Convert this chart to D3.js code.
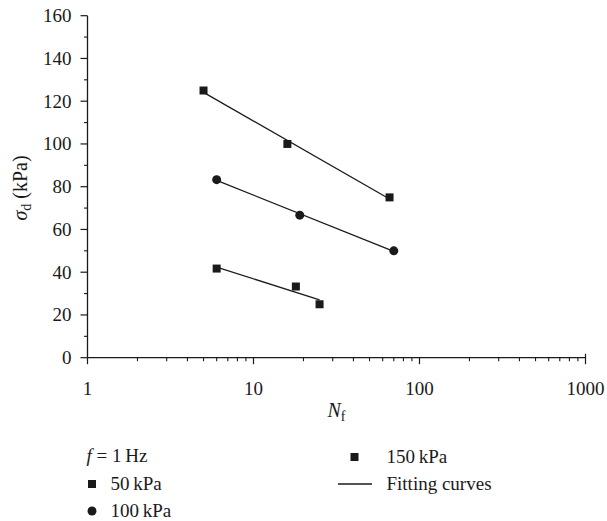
<!DOCTYPE html>
<html>
<head>
<meta charset="utf-8">
<script src="https://cdn.jsdelivr.net/npm/d3@7"></script>
<style>
  html, body { margin: 0; padding: 0; background: #fff; }
  svg { display: block; font-family: "Liberation Serif", "DejaVu Serif", serif; }
</style>
</head>
<body>
<svg id="chart" width="607" height="521"></svg>
<script>
// ---- data ----
const series50N  = [5, 16, 66];
const series50S  = [125, 100, 75];
const series100N = [6, 19, 70];
const series100S = [83.3, 66.7, 50];
const series150N = [6, 18, 25];
const series150S = [41.7, 33.3, 25];
const seriesNames = ["50\u2009kPa", "100\u2009kPa", "150\u2009kPa"];
const seriesShapes = ["square", "circle", "square"];
const xTickValues = [1, 10, 100, 1000];
const yTickValues = [0, 20, 40, 60, 80, 100, 120, 140, 160];

const seriesList = [
  { name: seriesNames[0], shape: seriesShapes[0], N: series50N,  S: series50S },
  { name: seriesNames[1], shape: seriesShapes[1], N: series100N, S: series100S },
  { name: seriesNames[2], shape: seriesShapes[2], N: series150N, S: series150S }
];

const ink = "#1a1a1a";
const fs = 19;
const svg = d3.select("#chart");
const pLeft = 87.5, pRight = 585.5, pTop = 15.7, pBottom = 357.7;

const x = d3.scaleLog().domain([1, 1000]).range([pLeft, pRight]);
const y = d3.scaleLinear().domain([0, 160]).range([pBottom, pTop]);

// ---- axes ----
const minorX = [];
for (let d = 1; d < 1000; d *= 10) for (let k = 2; k <= 9; k++) minorX.push(d * k);
const minorY = d3.range(10, 160, 20);

const xAxis = svg.append("g").attr("transform", `translate(0,${pBottom})`);
xAxis.append("line").attr("x1", pLeft).attr("x2", pRight + 0.5).attr("stroke", ink).attr("stroke-width", 1.3);
xAxis.selectAll(".mn").data(minorX).join("line")
  .attr("x1", d => x(d)).attr("x2", d => x(d)).attr("y1", 0).attr("y2", 3.5)
  .attr("stroke", ink).attr("stroke-width", 1.1);
xAxis.selectAll(".mj").data(xTickValues).join("line")
  .attr("x1", d => x(d)).attr("x2", d => x(d)).attr("y1", d => d === 1000 ? -4 : 0).attr("y2", 6.5)
  .attr("stroke", ink).attr("stroke-width", 1.2);
xAxis.selectAll(".lb").data(xTickValues).join("text")
  .attr("x", d => x(d)).attr("y", 37).attr("text-anchor", "middle")
  .attr("font-size", fs).attr("fill", ink).text(d => d);

const yAxis = svg.append("g").attr("transform", `translate(${pLeft},0)`);
yAxis.append("line").attr("y1", pTop).attr("y2", pBottom).attr("stroke", ink).attr("stroke-width", 1.3);
yAxis.selectAll(".mn").data(minorY).join("line")
  .attr("x1", -3.5).attr("x2", 0).attr("y1", d => y(d)).attr("y2", d => y(d))
  .attr("stroke", ink).attr("stroke-width", 1.1);
yAxis.selectAll(".mj").data(yTickValues).join("line")
  .attr("x1", -7).attr("x2", 0).attr("y1", d => y(d)).attr("y2", d => y(d))
  .attr("stroke", ink).attr("stroke-width", 1.2);
yAxis.selectAll(".lb").data(yTickValues).join("text")
  .attr("x", -16).attr("y", d => y(d) + 6.5).attr("text-anchor", "end")
  .attr("font-size", fs).attr("fill", ink).text(d => d);

// axis titles
const yl = svg.append("text").attr("transform", "translate(27,188) rotate(-90)")
  .attr("text-anchor", "middle").attr("font-size", 20).attr("fill", ink);
yl.append("tspan").attr("font-style", "italic").text("σ");
yl.append("tspan").attr("font-size", 14).attr("dy", 4).text("d");
yl.append("tspan").attr("dy", -4).text(" (kPa)");

const xl = svg.append("text").attr("x", 336.5).attr("y", 417)
  .attr("text-anchor", "middle").attr("font-size", 20).attr("fill", ink);
xl.append("tspan").attr("font-style", "italic").text("N");
xl.append("tspan").attr("font-size", 14).attr("dy", 4).text("f");

// ---- fitting lines (least squares in log N) ----
function fit(N, S) {
  const lx = N.map(Math.log10);
  const mx = d3.mean(lx), my = d3.mean(S);
  const sxy = d3.sum(lx, (v, i) => (v - mx) * (S[i] - my));
  const sxx = d3.sum(lx, v => (v - mx) * (v - mx));
  const b = sxy / sxx, a = my - b * mx;
  const n0 = d3.min(N), n1 = d3.max(N);
  return [[n0, a + b * Math.log10(n0)], [n1, a + b * Math.log10(n1)]];
}
const line = d3.line().x(d => x(d[0])).y(d => y(d[1]));
seriesList.forEach(s => {
  svg.append("path").attr("d", line(fit(s.N, s.S)))
    .attr("fill", "none").attr("stroke", ink).attr("stroke-width", 1.3);
});

// ---- markers ----
function marker(g, shape, cx, cy) {
  if (shape === "square") {
    g.append("rect").attr("x", cx - 4).attr("y", cy - 4).attr("width", 8).attr("height", 8).attr("fill", ink);
  } else {
    g.append("circle").attr("cx", cx).attr("cy", cy).attr("r", 4.5).attr("fill", ink);
  }
}
seriesList.forEach(s => {
  s.N.forEach((n, i) => marker(svg, s.shape, x(n), y(s.S[i])));
});

// ---- legend ----
const lg = svg.append("g").attr("font-size", fs).attr("fill", ink);
const f1 = lg.append("text").attr("x", 86.5).attr("y", 462);
f1.append("tspan").attr("font-style", "italic").text("f");
f1.append("tspan").text(" = 1\u2009Hz");

const legendPos = [
  { mx: 92, my: 484, tx: 110.5, ty: 490 },
  { mx: 92, my: 511, tx: 110.5, ty: 517 },
  { mx: 354.5, my: 457, tx: 386.5, ty: 463 }
];
seriesList.forEach((s, i) => {
  const p = legendPos[i];
  marker(lg, s.shape, p.mx, p.my);
  lg.append("text").attr("x", p.tx).attr("y", p.ty).text(s.name);
});
lg.append("line").attr("x1", 338).attr("x2", 372).attr("y1", 484).attr("y2", 484)
  .attr("stroke", ink).attr("stroke-width", 1.3);
lg.append("text").attr("x", 386.5).attr("y", 490).text("Fitting curves");
</script>
</body>
</html>
